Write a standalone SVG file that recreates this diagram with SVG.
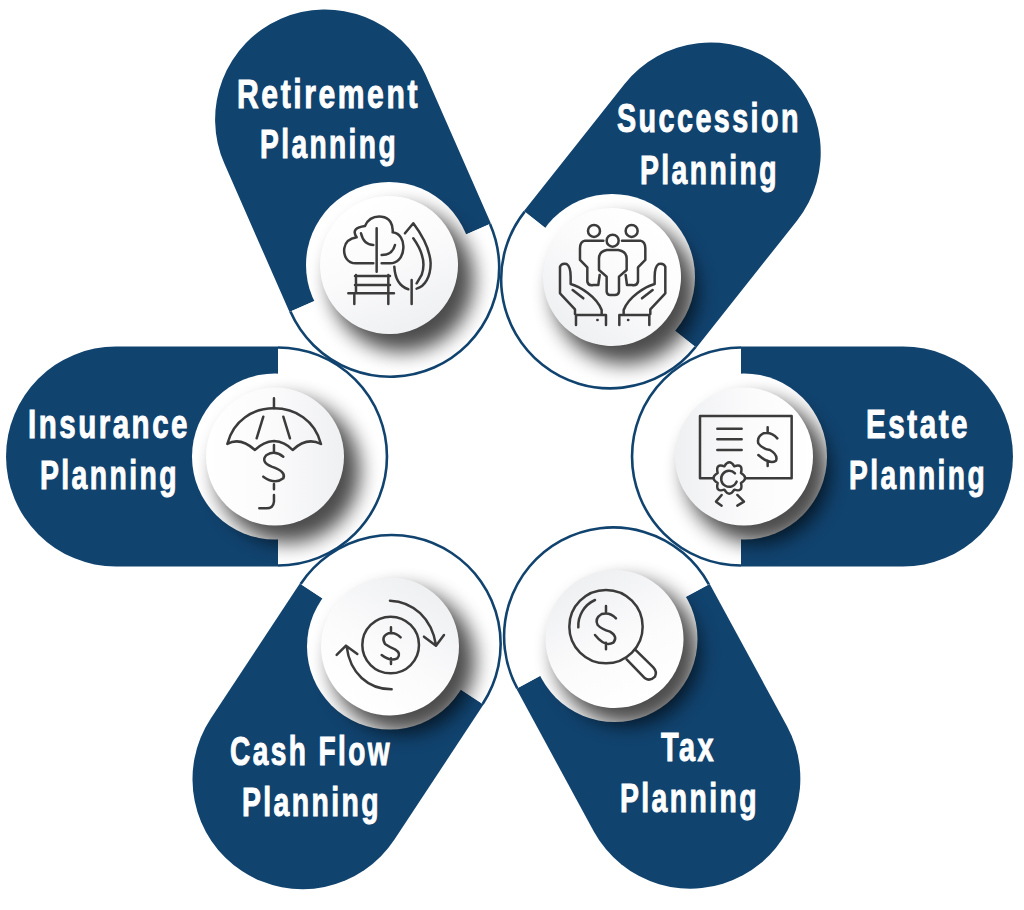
<svg xmlns="http://www.w3.org/2000/svg" width="1024" height="910" viewBox="0 0 1024 910">
<style>
.bg{fill:#fff}
.blue{fill:#11436f}
.half{fill:#fff;stroke:#11436f;stroke-width:2.6}
.ring{fill:#fff}
.shadow{fill:#000;opacity:.7;filter:url(#blur)}
.ic{fill:none;stroke:#3b3b3b;stroke-width:2.5;stroke-linecap:round;stroke-linejoin:round}
.ic *{vector-effect:non-scaling-stroke}
.t{font-family:"Liberation Sans",Arial,sans-serif;font-weight:700;font-size:41px;letter-spacing:3.5px;fill:#fff;stroke:#fff;stroke-width:1}
</style>
<defs>
<filter id="blur" x="-40%" y="-40%" width="180%" height="180%"><feGaussianBlur stdDeviation="10"/></filter>
<linearGradient id="dg" x1="0" y1="0" x2="1" y2="0"><stop offset="0" stop-color="#ffffff"/><stop offset=".45" stop-color="#fbfbfc"/><stop offset="1" stop-color="#eff0f2"/></linearGradient>
<g id="pill"><path class="blue" d="M3-110H-159A110 110 0 0 0-159 110H3Z"/><path class="half" d="M3-109A109 109 0 0 1 3 109"/></g>
<circle id="disc" r="69" fill="url(#dg)"/>
</defs>
<rect class="bg" width="1024" height="910"/>

<g id="retirement">
<use href="#pill" transform="translate(389,265) rotate(66.3)"/>
<circle class="ring" cx="389" cy="265" r="83"/>
<circle class="shadow" cx="402" cy="280" r="72"/>
<use href="#disc" transform="translate(389,265) rotate(66.3)"/>
<g class="ic" transform="translate(200,0) scale(.3333)">
<path d="M520 790H468C440 790 430 765 433 745C436 725 450 715 470 712C455 690 470 682 495 678C505 655 525 648 545 650C570 652 580 675 578 697C600 700 612 720 610 745C608 775 590 790 570 790H545"/>
<path d="M483 700C490 730 505 735 520 735M585 735C580 755 565 765 545 765M530 685V815"/>
<path d="M465 828H570M465 855H570M468 825V880M565 825V880M445 880H582M463 885V912M565 885V912"/>
<path d="M615 700L640 670C670 710 690 750 692 790C692 830 675 860 650 866M640 715C665 750 678 790 665 825L650 850M583 800C585 835 600 860 625 868M635 840V912"/>
</g>
<text class="t" x="237" y="108" textLength="183" lengthAdjust="spacingAndGlyphs">Retirement</text>
<text class="t" x="260" y="158" textLength="138" lengthAdjust="spacingAndGlyphs">Planning</text>
</g>

<g id="succession">
<use href="#pill" transform="translate(612,277) rotate(128.4)"/>
<circle class="ring" cx="612" cy="277" r="83"/>
<circle class="shadow" cx="625" cy="292" r="72"/>
<use href="#disc" transform="translate(612,277) rotate(128.4)"/>
<g class="ic" transform="translate(500,30) scale(.3333)">
<circle cx="282" cy="603" r="18"/><circle cx="395" cy="603" r="18"/><circle cx="338" cy="632" r="18"/>
<path d="M310 632H255Q240 635 240 655V690L262 712V755Q265 768 280 765H295L299 735M366 632H421Q436 635 436 655V690L414 712V755Q411 768 396 765H381L377 735"/>
<path d="M320 660H355Q380 665 380 685V720L357 740V785Q355 795 345 795H330Q322 795 320 785V740L297 720V685Q297 665 320 660Z"/>
<path d="M180 790V710Q185 698 200 702Q212 710 212 740V762C240 770 290 800 305 840V852M180 790L225 838V852M218 780L250 805M228 885V855H318V885M292 870h1"/>
<path d="M496 790V710Q491 698 476 702Q464 710 464 740V762C436 770 386 800 371 840V852M496 790L451 838V852M458 780L426 805M448 885V855H358V885M384 870h1"/>
</g>
<text class="t" x="617" y="132" textLength="184" lengthAdjust="spacingAndGlyphs">Succession</text>
<text class="t" x="640" y="184" textLength="139" lengthAdjust="spacingAndGlyphs">Planning</text>
</g>

<g id="insurance">
<use href="#pill" transform="translate(275,456.5)"/>
<circle class="ring" cx="275" cy="456.5" r="83"/>
<circle class="shadow" cx="288" cy="471" r="72"/>
<use href="#disc" transform="translate(275,456.5)"/>
<g class="ic" transform="translate(0,340) scale(.3333)">
<path d="M682 312C700 240 760 205 822 205C885 205 945 240 963 312Q920 290 878 330Q855 305 822 303Q790 305 765 330Q720 290 682 312Z"/>
<path d="M822 175V205M790 230L770 295M850 230L870 295M822 315V335"/>
<path d="M850 350Q825 330 800 345Q780 365 815 380Q860 395 850 415Q825 435 790 410M822 432V448M822 465V485Q820 505 800 505H778"/>
</g>
<text class="t" x="28" y="438" textLength="162" lengthAdjust="spacingAndGlyphs">Insurance</text>
<text class="t" x="40" y="489" textLength="139" lengthAdjust="spacingAndGlyphs">Planning</text>
</g>

<g id="estate">
<use href="#pill" transform="translate(744,456.5) rotate(180)"/>
<circle class="ring" cx="744" cy="456.5" r="83"/>
<circle class="shadow" cx="757" cy="471" r="72"/>
<use href="#disc" transform="translate(744,456.5) rotate(180)"/>
<g class="ic" transform="translate(630,340) scale(.3333)">
<path d="M248 415H210V228H485V415H350M262 266H335M262 298H335M262 330H335"/>
<path d="M442 295Q425 275 400 280Q380 290 385 310Q395 325 420 330Q445 345 438 362Q420 375 385 345M413 262V280M413 362V378"/>
<path d="M283 379Q298 355 313 379Q340 370 333 399Q358 414 333 429Q340 458 313 449Q298 473 283 449Q256 458 263 429Q238 414 263 399Q256 370 283 379Z"/>
<path d="M315 400A24 24 0 1 0 320 425M275 465L258 485L275 497M322 465L342 485L322 497"/>
</g>
<text class="t" x="866" y="438" textLength="104" lengthAdjust="spacingAndGlyphs">Estate</text>
<text class="t" x="849" y="489" textLength="138" lengthAdjust="spacingAndGlyphs">Planning</text>
</g>

<g id="cash-flow">
<use href="#pill" transform="translate(390,646.5) rotate(-56.6)"/>
<circle class="ring" cx="390" cy="646.5" r="83"/>
<circle class="shadow" cx="403" cy="661" r="72"/>
<use href="#disc" transform="translate(390,646.5) rotate(-56.6)"/>
<g class="ic" transform="translate(190,530) scale(.3333)">
<circle cx="602" cy="345" r="85"/>
<path d="M632 322Q615 305 595 310Q572 320 585 342Q600 352 615 358Q635 370 622 385Q600 395 575 375M603 292V310M603 385V402"/>
<path d="M600 212C670 215 725 265 738 345M702 320L738 347L762 315M605 478C535 478 480 430 470 350M440 375L468 347L502 372"/>
</g>
<text class="t" x="230" y="765" textLength="162" lengthAdjust="spacingAndGlyphs">Cash Flow</text>
<text class="t" x="242" y="816" textLength="139" lengthAdjust="spacingAndGlyphs">Planning</text>
</g>

<g id="tax">
<use href="#pill" transform="translate(614.5,639) rotate(-118.5)"/>
<circle class="ring" cx="614.5" cy="639" r="83"/>
<circle class="shadow" cx="627" cy="653" r="72"/>
<use href="#disc" transform="translate(614.5,639) rotate(-118.5)"/>
<g class="ic" transform="translate(500,520) scale(.3333)">
<circle cx="318" cy="320" r="110"/>
<path d="M285 240A85 85 0 0 0 235 322"/>
<path d="M348 295Q330 275 305 282Q283 295 293 315Q305 328 330 335Q355 350 340 368Q315 382 285 345M318 258V278M318 368V388"/>
<path d="M380 418L435 475Q450 485 465 470Q472 455 460 442L405 388"/>
</g>
<text class="t" x="661" y="761" textLength="55" lengthAdjust="spacingAndGlyphs">Tax</text>
<text class="t" x="620" y="812" textLength="139" lengthAdjust="spacingAndGlyphs">Planning</text>
</g>
</svg>
